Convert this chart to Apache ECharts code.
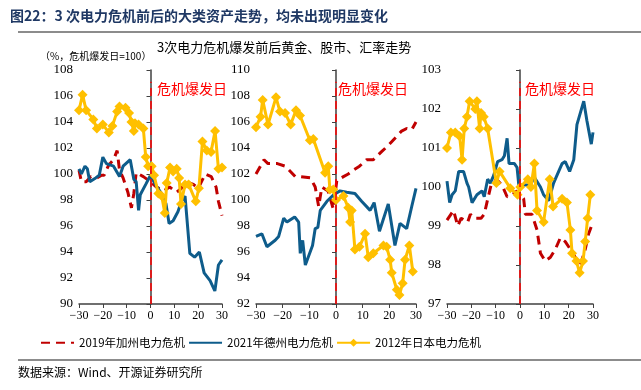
<!DOCTYPE html>
<html><head><meta charset="utf-8">
<script src="https://cdn.jsdelivr.net/npm/echarts@6/dist/echarts.min.js"></script>
<style>html,body{margin:0;padding:0;background:#fff}#c{width:641px;height:390px}</style>
</head><body><div id="c"></div>
<script>
// ---- tick settings ----
const xTicks = {min: -30, max: 30, interval: 10};
const yRanges = [{min: 90, max: 108, interval: 2}, {min: 92, max: 110, interval: 2}, {min: 97, max: 103, interval: 1}];
const seriesNames = ['2019年加州电力危机', '2021年德州电力危机', '2012年日本电力危机'];

// ---- Panel 1 ----
const p1RedX = [-30,-29,-27,-25,-22.5,-20.5,-19.5,-17.5,-15.5,-14,-13,-11.5,-9.5,-8,-7,-6,-3,0,2.5,5.5,8,11,13,15,18,20,23,25.5,27.5,28.5,30];
const p1RedY = [100.3,99.4,99.4,99.8,99.7,99.9,99.9,100.7,101.1,101.8,100.3,99.7,98.6,97.4,98.5,100.1,99.8,99.4,99.0,98.7,99.0,98.6,98.9,99.4,99.2,98.9,100.0,99.8,99.0,97.9,96.8];
const p1BlueX = [-30,-29,-27.5,-26.5,-25.5,-23,-21.5,-20,-18.5,-15.5,-13,-11.5,-8.5,-7,-6,-5,-4.3,-2,0,2,5,6.5,7.8,9.5,11.5,13,14.5,16.5,18.5,20.5,22.5,25,27,28.5,30];
const p1BlueY = [100.4,100.0,100.6,100.4,99.4,99.7,99.9,101.3,100.8,100.6,99.8,100.6,101.1,99.6,99.4,97.2,98.4,99.2,99.9,99.2,98.4,97.7,96.2,96.4,97.1,97.9,98.3,93.9,93.6,94.0,92.4,91.8,91.0,93.0,93.4];
const p1GoldX = [-30,-28.5,-27,-24,-22.5,-20,-17.5,-16,-14,-13,-10.5,-9,-8,-7,-6.5,-5,-3,-2,-1,0.5,1.5,3.3,4.7,6,6.8,8.2,9.5,11,12,12.8,14.5,16,19,20.3,21.8,23.6,25.4,27.1,28.5,30];
const p1GoldY = [104.9,106.1,104.9,104.2,103.5,103.8,103.2,103.7,104.8,105.2,105.1,104.7,104.0,103.3,103.9,103.8,103.5,101.3,100.6,100.6,99.9,98.5,98.3,97.0,99.3,100.5,100.2,100.4,99.7,97.7,99.2,99.2,97.9,98.9,102.5,101.8,101.7,103.3,100.4,100.5];

// ---- Panel 2 ----
const p2RedX = [-30,-27,-25.5,-22,-19,-15.3,-13.4,-9.6,-7.8,-6.5,-5.3,-3,-1,0.3,2.8,4.6,6.5,8.8,11.5,14,17,19.6,22.8,24.6,26.5,28.4,30];
const p2RedY = [102.0,103.1,102.8,102.8,102.6,101.8,101.8,101.7,101.0,99.5,101.0,100.7,99.3,101.5,101.8,102.0,102.3,102.6,103.1,103.1,103.7,104.2,104.9,105.3,105.5,105.4,106.0];
const p2BlueX = [-30,-27.8,-25.9,-22.8,-21.5,-19.6,-18.4,-15.5,-14,-13.4,-12.5,-11.5,-8.8,-7.8,-6.8,-5.9,-3.4,-0.9,1.5,4,7.1,9.6,12.8,14.3,16.3,19.6,22.1,24,26.5,28.4,30];
const p2BlueY = [97.2,97.4,96.4,96.9,97.2,98.6,98.3,98.7,98.3,95.9,96.9,95.0,96.5,97.8,97.9,99.2,99.9,100.4,100.7,100.6,100.5,99.9,99.2,99.8,97.6,99.7,96.5,98.2,97.8,99.5,100.9];
const p2GoldX = [-30,-28.3,-27.5,-25.5,-22.5,-21,-19.1,-17,-15,-13.5,-9.8,-8.5,-4.1,-2.9,-2.3,-1,0,2.8,4.6,5.3,5.9,7.1,8.8,10.9,12.1,14,17.8,19,20.3,20.9,22.8,23.8,25,25.9,27.5,28.8];
const p2GoldY = [105.6,106.4,107.7,105.8,107.9,106.8,106.7,105.8,106.9,106.5,104.6,104.7,102.1,102.6,100.8,100.8,100.0,100.3,99.4,98.3,99.2,96.2,96.4,97.4,95.6,95.9,96.5,96.4,95.4,94.4,93.1,92.7,93.6,95.4,96.5,94.5];

// ---- Panel 3 ----
const p3RedX = [-30,-28.4,-27.3,-25.6,-24.2,-21.5,-20.4,-19,-16,-14.7,-13.6,-11.9,-9.7,-7.4,-5.3,-3.3,-1.2,1.5,2.2,4.9,7,8.4,10.4,12.5,14.5,16.6,18.6,20.7,22.7,24.8,26.8,28.2,30];
const p3RedY = [99.15,99.3,99.4,99.0,99.2,99.1,99.3,99.2,99.2,99.3,99.6,100.05,100.2,100.05,99.75,99.8,99.9,99.7,99.3,99.3,98.9,98.3,98.1,98.2,98.4,98.7,98.6,98.4,98.2,98.0,98.4,98.8,99.1];
const p3BlueX = [-30,-28.9,-27.9,-26.6,-25.2,-23.2,-21.8,-21.1,-19.7,-17.7,-15.6,-14.7,-13.3,-12.2,-10.8,-9.2,-7.4,-6.4,-5.3,-4.5,-2.3,-1.2,-0.5,1.5,4.2,5.9,8.4,9.7,11.8,13.8,15.9,17.3,18.6,20.4,22.1,23.4,24.8,26.2,27.5,29.3,30];
const p3BlueY = [100.15,99.6,99.8,99.9,100.4,100.4,100.1,100.0,99.6,99.8,99.9,99.75,100.2,100.1,100.3,100.65,100.7,100.8,101.25,100.6,100.6,100.5,100.05,100.05,100.05,100.25,100.0,99.8,99.65,100.1,100.4,100.6,100.65,100.4,100.7,101.6,101.9,102.2,101.7,101.1,101.4];
const p3GoldX = [-30,-28.4,-26.6,-24.8,-23.8,-22.9,-21.8,-20.7,-18.4,-17.7,-16.6,-16,-14.9,-13.3,-9.7,-8.4,-4,-1,0.1,3.2,4.5,5.9,7,9.7,12.2,13.6,17.3,19.3,20.7,21.4,23.2,24.5,25.9,26.8,27.8,28.9];
const p3GoldY = [101.0,101.4,101.4,101.3,100.7,101.5,101.8,102.2,102.0,102.2,101.5,101.9,101.8,101.5,100.1,100.4,99.97,99.8,100.0,100.2,100.0,100.6,99.4,99.1,100.2,99.5,99.7,99.6,98.9,98.3,98.1,97.8,98.1,98.6,99.2,99.8];

const panels = [
  {red:[p1RedX,p1RedY], blue:[p1BlueX,p1BlueY], gold:[p1GoldX,p1GoldY]},
  {red:[p2RedX,p2RedY], blue:[p2BlueX,p2BlueY], gold:[p2GoldX,p2GoldY]},
  {red:[p3RedX,p3RedY], blue:[p3BlueX,p3BlueY], gold:[p3GoldX,p3GoldY]}
];
const pair = (xs, ys) => xs.map((x, i) => [x, ys[i]]);

const grids = [
  {left: 79, top: 70, width: 143, height: 234},
  {left: 256, top: 70, width: 160, height: 234},
  {left: 447, top: 70, width: 146, height: 234}
];
const axisCol = '#404040';
const serif = '"Liberation Serif", "Times New Roman", serif';
const cjk = '"Noto Sans CJK SC", sans-serif';

const xAxes = grids.map((g, i) => ({
  type: 'value', gridIndex: i, min: xTicks.min, max: xTicks.max, interval: xTicks.interval,
  axisLine: {lineStyle: {color: axisCol, width: 1.5}},
  axisTick: {show: true, length: 4, lineStyle: {color: axisCol}},
  splitLine: {show: false},
  axisLabel: {fontFamily: serif, fontSize: 12, color: '#000', margin: 6,
    formatter: v => String(v).replace('-', '\u2212')}
}));
const yAxes = grids.map((g, i) => ({
  type: 'value', gridIndex: i, min: yRanges[i].min, max: yRanges[i].max, interval: yRanges[i].interval,
  axisLine: {show: true, lineStyle: {color: axisCol, width: 1.5}},
  axisTick: {show: true, length: 4, lineStyle: {color: axisCol}},
  splitLine: {show: false},
  axisLabel: {fontFamily: serif, fontSize: 13, color: '#000', margin: 6}
}));

const series = [];
panels.forEach((p, i) => {
  series.push({
    name: seriesNames[0], type: 'line', xAxisIndex: i, yAxisIndex: i,
    data: pair(p.red[0], p.red[1]), symbol: 'none',
    lineStyle: {color: '#C00000', width: 3, type: [9, 6]}, itemStyle: {color: '#C00000'},
    markLine: {silent: true, symbol: 'none', label: {show: false},
      lineStyle: {color: '#FF0000', width: 1.5, type: [8, 5]},
      data: [[{coord: [0, yRanges[i].min]}, {coord: [0, yRanges[i].max - (yRanges[i].max - yRanges[i].min) * 0.05]}]]}
  });
  series.push({
    name: seriesNames[1], type: 'line', xAxisIndex: i, yAxisIndex: i,
    data: pair(p.blue[0], p.blue[1]), symbol: 'none',
    lineStyle: {color: '#0E5C8B', width: 3}, itemStyle: {color: '#0E5C8B'}
  });
  series.push({
    name: seriesNames[2], type: 'line', xAxisIndex: i, yAxisIndex: i,
    data: pair(p.gold[0], p.gold[1]), symbol: 'diamond', symbolSize: 10,
    lineStyle: {color: '#FFC000', width: 3}, itemStyle: {color: '#FFC000'}
  });
});

const crisisLabelX = [157, 338, 525];
const graphic = [
  {type: 'text', left: 10, top: 9, style: {text: '图22：3 次电力危机前后的大类资产走势，均未出现明显变化', font: 'bold 14px ' + cjk, fill: '#1F3864'}},
  {type: 'rect', shape: {x: 18, y: 31, width: 623, height: 2}, style: {fill: '#8C8C8C'}},
  {type: 'text', left: 157, top: 41, style: {text: '3次电力危机爆发前后黄金、股市、汇率走势', font: '13px ' + cjk, fill: '#000'}},
  {type: 'text', left: 40, top: 51, style: {text: '（%，危机爆发日=100）', font: '10px ' + cjk, fill: '#000'}},
  {type: 'rect', shape: {x: 18, y: 359, width: 623, height: 2}, style: {fill: '#8C8C8C'}},
  {type: 'text', left: 18, top: 366, style: {text: '数据来源：Wind、开源证券研究所', font: '12px ' + cjk, fill: '#000'}}
].concat(crisisLabelX.map(x => ({type: 'text', left: x, top: 82, style: {text: '危机爆发日', font: '14px ' + cjk, fill: '#FF0000'}})));

const chart = echarts.init(document.getElementById('c'), null, {renderer: 'canvas'});
chart.setOption({
  animation: false,
  backgroundColor: '#fff',
  grid: grids,
  xAxis: xAxes,
  yAxis: yAxes,
  legend: {
    data: [
      {name: seriesNames[0], itemStyle: {opacity: 0}},
      {name: seriesNames[1], itemStyle: {opacity: 0}},
      {name: seriesNames[2]}
    ],
    left: 35, top: 332, itemWidth: 33, itemHeight: 10, itemGap: 3,
    textStyle: {fontFamily: cjk, fontSize: 11.5, color: '#000'}},
  series: series,
  graphic: graphic
});
</script></body></html>
